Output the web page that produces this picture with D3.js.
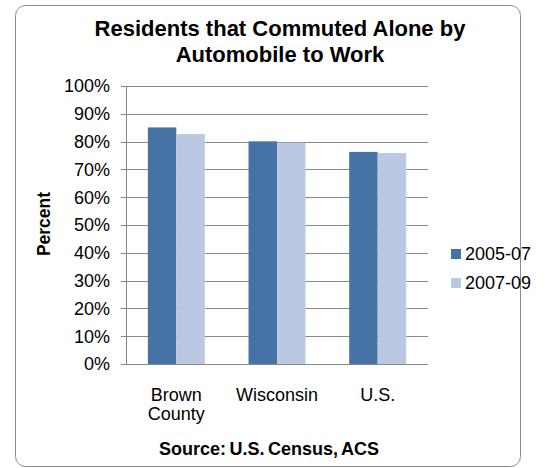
<!DOCTYPE html>
<html><head><meta charset="utf-8">
<script src="https://cdn.jsdelivr.net/npm/d3@7"></script>
<style>body{margin:0;background:#fff}svg{display:block}text{font-family:"Liberation Sans",Arial,sans-serif}</style>
</head><body><svg id="c" width="548" height="468"></svg>
<script>
const categories = [["Brown","County"],["Wisconsin"],["U.S."]];
const seriesNames = ["2005-07","2007-09"];
const values2005 = [85.1, 80.1, 76.3];
const values2007 = [82.7, 79.6, 75.9];
const yTicks = [0,10,20,30,40,50,60,70,80,90,100];
const colors = ["#4672A6","#BAC8E1"];

const svg = d3.select("#c");
svg.append("rect").attr("x",15.5).attr("y",5.5).attr("width",505).attr("height",461).attr("rx",10)
  .attr("fill","#fff").attr("stroke","#8c8c8c").attr("stroke-width",1);

const L=126,R=428,T=86,B=364;
const x = d3.scaleBand().domain(d3.range(categories.length)).range([L,R]).paddingInner(0.434).paddingOuter(0.217);
const xs = d3.scaleBand().domain(seriesNames).range([0,x.bandwidth()]);
const y = d3.scaleLinear().domain([0,100]).range([B,T]);

svg.append("g").selectAll("line").data(yTicks).join("line")
  .attr("x1",L-5).attr("x2",R).attr("y1",d=>Math.round(y(d))+0.5).attr("y2",d=>Math.round(y(d))+0.5)
  .attr("stroke","#888").attr("stroke-width",1);
svg.append("line").attr("x1",L+0.5).attr("x2",L+0.5).attr("y1",T).attr("y2",B).attr("stroke","#888");

svg.append("g").selectAll("text").data(yTicks).join("text")
  .attr("x",110).attr("y",d=>y(d)).attr("dy","0.35em").attr("text-anchor","end")
  .attr("font-size",18).attr("fill","#000").text(d=>d+"%");

const data = categories.map((c,i)=>({i, vals:[values2005[i],values2007[i]]}));
const g = svg.append("g").selectAll("g").data(data).join("g").attr("transform",d=>`translate(${x(d.i)},0)`);
g.selectAll("rect").data(d=>d.vals.map((v,k)=>({v,k}))).join("rect")
  .attr("x",d=>xs(seriesNames[d.k])).attr("width",xs.bandwidth())
  .attr("y",d=>y(d.v)).attr("height",d=>B-y(d.v)).attr("fill",d=>colors[d.k]);

const xl = svg.append("g").selectAll("text").data(categories).join("text")
  .attr("text-anchor","middle").attr("font-size",18).attr("fill","#000")
  .attr("transform",(d,i)=>`translate(${x(i)+x.bandwidth()/2},401)`);
xl.selectAll("tspan").data(d=>d).join("tspan").attr("x",0).attr("dy",(d,j)=>j?19:0).text(d=>d);

svg.append("text").attr("transform","translate(50,224) rotate(-90)").attr("text-anchor","middle")
  .attr("font-size",17.5).attr("font-weight","bold").text("Percent");

svg.append("text").attr("x",280).attr("y",36).attr("text-anchor","middle").attr("font-size",22).attr("font-weight","bold").text("Residents that Commuted Alone by");
svg.append("text").attr("x",280).attr("y",62).attr("text-anchor","middle").attr("font-size",22).attr("font-weight","bold").text("Automobile to Work");

const lg = svg.append("g").selectAll("g").data(seriesNames).join("g")
  .attr("transform",(d,i)=>`translate(451,${254+i*29})`);
lg.append("rect").attr("x",0).attr("y",-5).attr("width",10).attr("height",10).attr("fill",(d,i)=>colors[i]);
lg.append("text").attr("x",14).attr("dy","0.35em").attr("font-size",18).text(d=>d);

svg.append("text").attr("x",269).attr("y",455).attr("text-anchor","middle").attr("font-size",18)
  .attr("font-weight","bold").attr("word-spacing",-1.5).text("Source: U.S. Census, ACS");
</script></body></html>
